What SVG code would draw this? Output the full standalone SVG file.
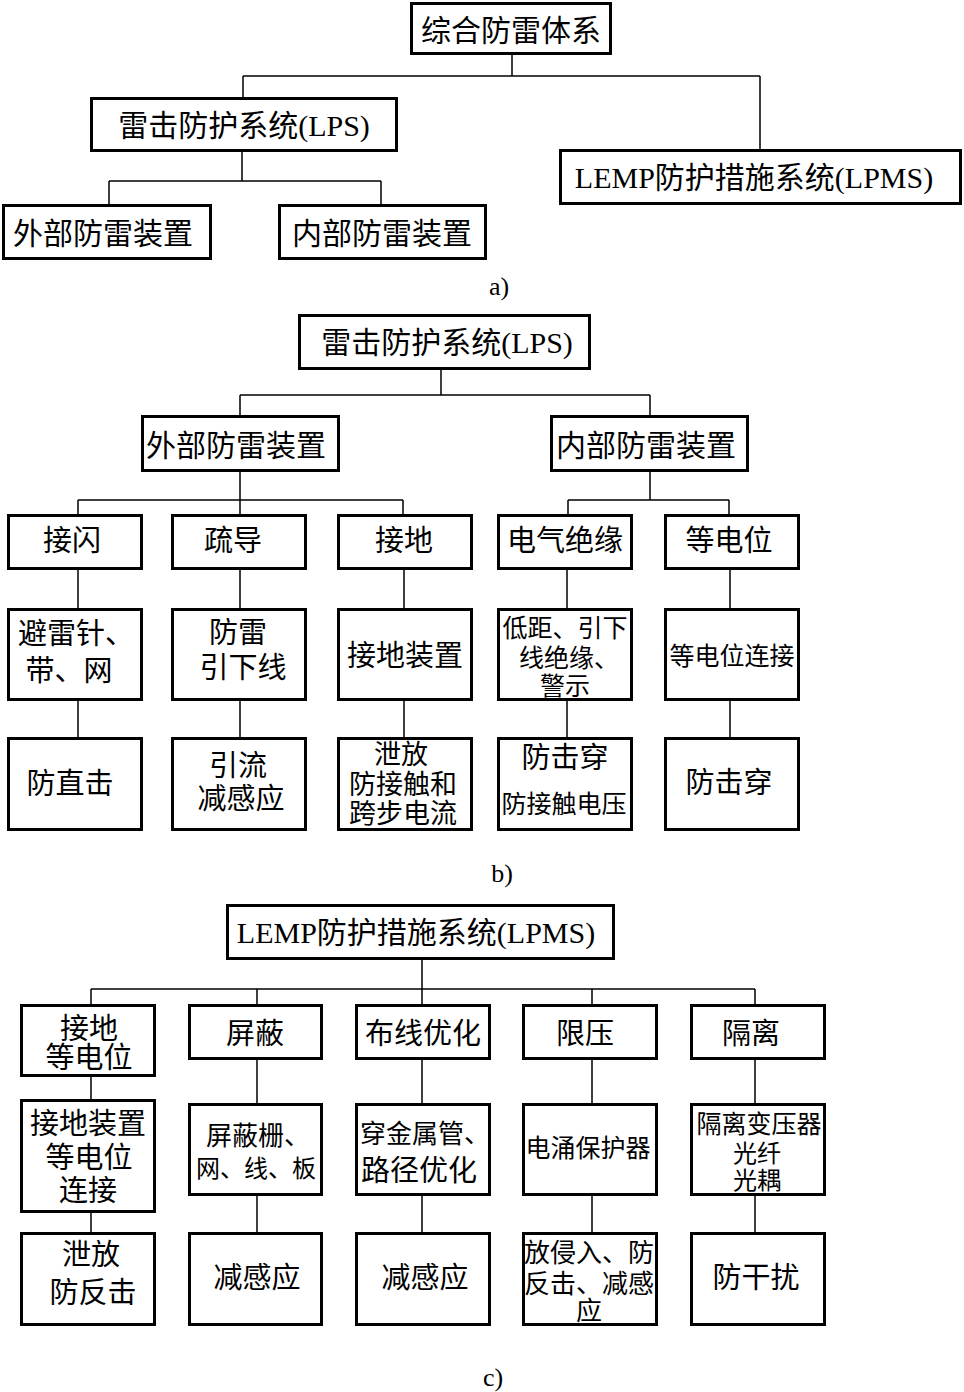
<svg xmlns="http://www.w3.org/2000/svg" width="964" height="1392" viewBox="0 0 964 1392">
<style>
.b{fill:#fff;stroke:#000;stroke-width:3}
.c{fill:none;stroke:#000;stroke-width:1.5}
text{font-family:'Liberation Serif','Noto Sans CJK SC',serif;font-size:29px;text-anchor:middle;fill:#000}
.L{font-size:30px}
.s{font-size:25px}
.m{font-size:26px}
.n{font-size:24px}
.t{font-size:27px}
.cap{font-size:26px}
</style>
<rect width="964" height="1392" fill="#fff"/>
<g id="connectors">
<path class="c" d="M512,55V76M243,76H760M243,76V97M760,76V149M242,152V181M109,181H381M109,181V204M381,181V204"/>
<path class="c" d="M441,370V395M240,395H650M240,395V415M650,395V415M240,472V500M78,500H403M78,500V514M240,500V514M403,500V514M650,472V500M568,500H729M568,500V514M729,500V514"/>
<path class="c" d="M78,570V608M240,570V608M404,570V608M567,570V608M730,570V608M78,701V737M240,701V737M404,701V737M567,701V737M730,701V737"/>
<path class="c" d="M422,960V989M91,989H755M91,989V1004M257,989V1004M422,989V1004M592,989V1004M755,989V1004"/>
<path class="c" d="M91,1077V1099M257,1060V1103M422,1060V1103M592,1060V1103M755,1060V1103M91,1213V1232M257,1196V1232M422,1196V1232M592,1196V1232M755,1196V1232"/>
</g>
<g id="a0"><rect class="b" x="411.5" y="3.5" width="199" height="50"/><text class="L" x="511" y="41">综合防雷体系</text></g>
<g id="a1"><rect class="b" x="91.5" y="98.5" width="305" height="52"/><text class="L" x="244" y="136">雷击防护系统(LPS)</text></g>
<g id="a2"><rect class="b" x="560.5" y="150.5" width="400" height="53"/><text class="L" x="754" y="188">LEMP防护措施系统(LPMS)</text></g>
<g id="a3"><rect class="b" x="3.5" y="205.5" width="207" height="53"/><text class="L" x="103" y="244">外部防雷装置</text></g>
<g id="a4"><rect class="b" x="279.5" y="205.5" width="206" height="53"/><text class="L" x="382" y="244">内部防雷装置</text></g>
<text class="cap" x="499" y="295">a)</text>
<g id="b0"><rect class="b" x="299.5" y="315.5" width="290" height="53"/><text class="L" x="447" y="353">雷击防护系统(LPS)</text></g>
<g id="b1"><rect class="b" x="142.5" y="416.5" width="196" height="54"/><text class="L" x="236" y="456">外部防雷装置</text></g>
<g id="b2"><rect class="b" x="551.5" y="416.5" width="196" height="54"/><text class="L" x="646" y="456">内部防雷装置</text></g>
<g id="b11"><rect class="b" x="8.5" y="515.5" width="133" height="53"/><text x="72" y="551">接闪</text></g>
<g id="b12"><rect class="b" x="172.5" y="515.5" width="133" height="53"/><text x="233" y="551">疏导</text></g>
<g id="b13"><rect class="b" x="338.5" y="515.5" width="133" height="53"/><text x="404" y="551">接地</text></g>
<g id="b14"><rect class="b" x="498.5" y="515.5" width="133" height="53"/><text x="565" y="551">电气绝缘</text></g>
<g id="b15"><rect class="b" x="665.5" y="515.5" width="133" height="53"/><text x="729" y="551">等电位</text></g>
<g id="b21"><rect class="b" x="8.5" y="609.5" width="133" height="90"/><text x="76" y="644">避雷针、</text><text x="69" y="681">带、网</text></g>
<g id="b22"><rect class="b" x="172.5" y="609.5" width="133" height="90"/><text x="238" y="643">防雷</text><text x="243" y="678">引下线</text></g>
<g id="b23"><rect class="b" x="338.5" y="609.5" width="133" height="90"/><text x="405" y="666">接地装置</text></g>
<g id="b24"><rect class="b" x="498.5" y="609.5" width="133" height="90"/><text class="s" x="565" y="637">低距、引下</text><text class="s" x="569" y="667">线绝缘、</text><text class="s" x="565" y="695">警示</text></g>
<g id="b25"><rect class="b" x="665.5" y="609.5" width="133" height="90"/><text class="s" x="732" y="665">等电位连接</text></g>
<g id="b31"><rect class="b" x="8.5" y="738.5" width="133" height="91"/><text x="70" y="794">防直击</text></g>
<g id="b32"><rect class="b" x="172.5" y="738.5" width="133" height="91"/><text x="238" y="776">引流</text><text x="241" y="809">减感应</text></g>
<g id="b33"><rect class="b" x="338.5" y="738.5" width="133" height="91"/><text class="t" x="401" y="764">泄放</text><text class="t" x="403" y="794">防接触和</text><text class="t" x="403" y="823">跨步电流</text></g>
<g id="b34"><rect class="b" x="498.5" y="738.5" width="133" height="91"/><text x="565" y="768">防击穿</text><text class="s" x="564" y="813">防接触电压</text></g>
<g id="b35"><rect class="b" x="665.5" y="738.5" width="133" height="91"/><text x="729" y="793">防击穿</text></g>
<text class="cap" x="502" y="882">b)</text>
<g id="c0"><rect class="b" x="227.5" y="905.5" width="386" height="53"/><text class="L" x="416" y="943">LEMP防护措施系统(LPMS)</text></g>
<g id="c11"><rect class="b" x="21.5" y="1005.5" width="133" height="70"/><text x="89" y="1039">接地</text><text x="89" y="1068">等电位</text></g>
<g id="c12"><rect class="b" x="189.5" y="1005.5" width="132" height="53"/><text x="255" y="1044">屏蔽</text></g>
<g id="c13"><rect class="b" x="356.5" y="1005.5" width="133" height="53"/><text x="423" y="1044">布线优化</text></g>
<g id="c14"><rect class="b" x="523.5" y="1005.5" width="133" height="53"/><text x="585" y="1044">限压</text></g>
<g id="c15"><rect class="b" x="691.5" y="1005.5" width="133" height="53"/><text x="751" y="1044">隔离</text></g>
<g id="c21"><rect class="b" x="21.5" y="1100.5" width="133" height="111"/><text x="88" y="1134">接地装置</text><text x="89" y="1168">等电位</text><text x="88" y="1201">连接</text></g>
<g id="c22"><rect class="b" x="189.5" y="1104.5" width="132" height="90"/><text class="m" x="258" y="1145">屏蔽栅、</text><text class="n" x="256" y="1177">网、线、板</text></g>
<g id="c23"><rect class="b" x="356.5" y="1104.5" width="133" height="90"/><text class="m" x="425" y="1143">穿金属管、</text><text x="419" y="1181">路径优化</text></g>
<g id="c24"><rect class="b" x="523.5" y="1104.5" width="133" height="90"/><text class="s" x="588" y="1157">电涌保护器</text></g>
<g id="c25"><rect class="b" x="691.5" y="1104.5" width="133" height="90"/><text class="s" x="759" y="1133">隔离变压器</text><text class="n" x="757" y="1162">光纤</text><text class="n" x="757" y="1189">光耦</text></g>
<g id="c31"><rect class="b" x="21.5" y="1233.5" width="133" height="91"/><text x="91" y="1265">泄放</text><text x="93" y="1303">防反击</text></g>
<g id="c32"><rect class="b" x="189.5" y="1233.5" width="132" height="91"/><text x="257" y="1288">减感应</text></g>
<g id="c33"><rect class="b" x="356.5" y="1233.5" width="133" height="91"/><text x="425" y="1288">减感应</text></g>
<g id="c34"><rect class="b" x="523.5" y="1233.5" width="133" height="91"/><text class="m" x="589" y="1262">放侵入、防</text><text class="m" x="589" y="1293">反击、减感</text><text class="m" x="589" y="1320">应</text></g>
<g id="c35"><rect class="b" x="691.5" y="1233.5" width="133" height="91"/><text x="756" y="1288">防干扰</text></g>
<text class="cap" x="493" y="1386">c)</text>
</svg>
